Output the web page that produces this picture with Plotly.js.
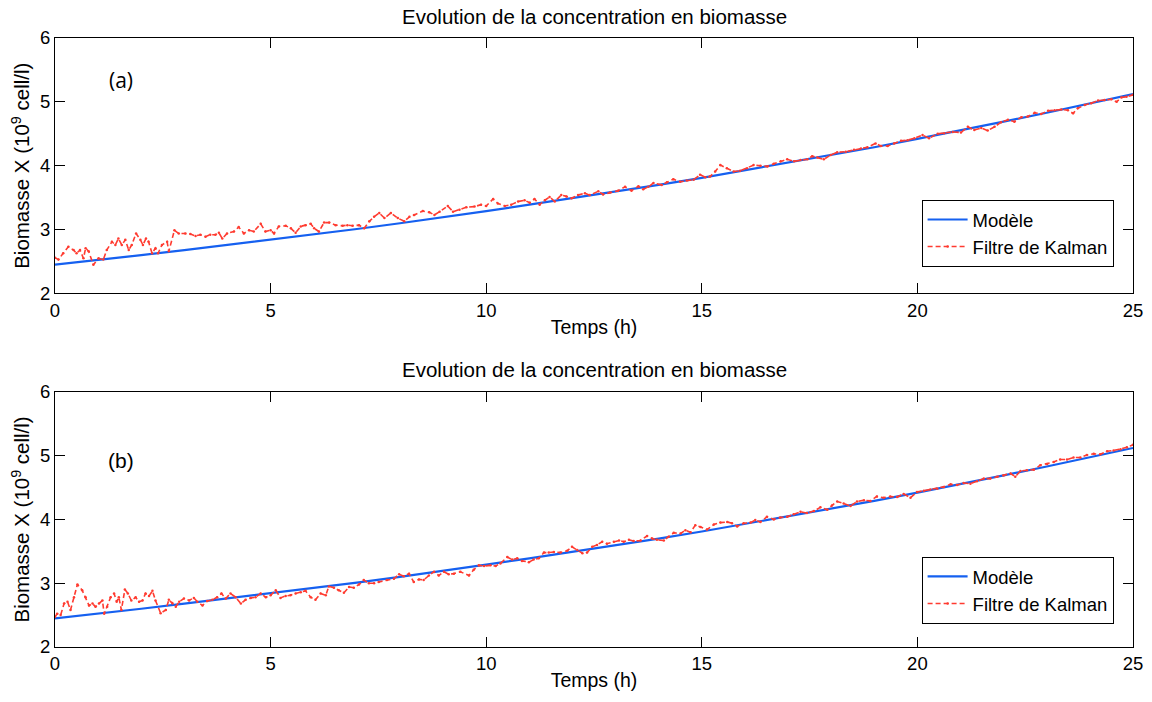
<!DOCTYPE html>
<html>
<head>
<meta charset="utf-8">
<script src="https://cdn.plot.ly/plotly-3.0.1.min.js"></script>
<style>html,body{margin:0;padding:0;background:#fff;}#chart{width:1152px;height:702px;}</style>
</head>
<body>
<div id="chart"></div>
<script>
// Modèle (same curve in both panels), read hourly
const modelT = [0,1,2,3,4,5,6,7,8,9,10,11,12,13,14,15,16,17,18,19,20,21,22,23,24,25];
const modelX = [2.45,2.52,2.60,2.68,2.76,2.84,2.92,3.01,3.10,3.19,3.29,3.39,3.49,3.59,3.70,3.81,3.93,4.04,4.16,4.29,4.42,4.55,4.69,4.83,4.97,5.12];

// Filtre de Kalman, panel (a)
const kalmanAT = [0.00,0.08,0.19,0.31,0.43,0.50,0.58,0.66,0.71,0.78,0.89,1.01,1.12,1.20,1.32,1.40,1.47,1.55,1.63,1.71,1.78,1.88,1.98,2.04,2.11,2.17,2.25,2.33,2.39,2.48,2.60,2.64,2.77,2.87,3.02,3.14,3.26,3.37,3.49,3.60,3.72,3.80,3.88,3.99,4.15,4.26,4.38,4.50,4.61,4.77,4.88,5.00,5.08,5.19,5.35,5.47,5.58,5.70,5.81,5.93,6.01,6.12,6.24,6.36,6.51,6.67,6.78,6.90,7.05,7.17,7.29,7.40,7.52,7.64,7.79,7.95,8.10,8.22,8.33,8.53,8.68,8.80,8.92,9.11,9.23,9.38,9.54,9.73,9.88,10.00,10.16,10.27,10.43,10.58,10.74,10.89,11.01,11.12,11.24,11.36,11.47,11.59,11.74,11.86,11.98,12.13,12.29,12.40,12.60,12.71,12.87,13.06,13.22,13.37,13.53,13.64,13.76,13.88,14.07,14.19,14.34,14.50,14.65,14.81,14.96,15.08,15.19,15.31,15.43,15.58,15.74,15.89,16.05,16.20,16.36,16.52,16.67,16.83,16.98,17.14,17.29,17.45,17.56,17.68,17.83,17.99,18.14,18.34,18.53,18.69,18.84,19.03,19.15,19.31,19.46,19.62,19.77,19.93,20.12,20.27,20.47,20.62,20.82,21.01,21.17,21.32,21.48,21.63,21.79,21.94,22.10,22.25,22.41,22.56,22.72,22.87,23.03,23.18,23.34,23.49,23.61,23.72,23.88,24.03,24.19,24.34,24.50,24.62,24.73,24.85,25.00];
const kalmanAX = [2.56,2.53,2.63,2.73,2.68,2.63,2.68,2.55,2.71,2.66,2.45,2.55,2.53,2.68,2.81,2.76,2.86,2.76,2.84,2.68,2.76,2.94,2.84,2.76,2.86,2.81,2.63,2.71,2.63,2.76,2.81,2.66,2.99,2.94,2.94,2.93,2.90,2.92,2.89,2.92,2.92,2.95,2.86,2.94,2.97,3.04,2.94,2.99,2.97,3.09,2.97,2.99,2.94,3.05,3.06,3.02,2.95,3.05,3.07,3.09,3.02,2.97,3.11,3.11,3.07,3.06,3.07,3.06,3.07,3.02,3.13,3.20,3.26,3.18,3.26,3.18,3.13,3.20,3.23,3.29,3.27,3.23,3.28,3.37,3.28,3.31,3.35,3.36,3.39,3.37,3.48,3.41,3.37,3.39,3.44,3.46,3.42,3.48,3.39,3.46,3.51,3.44,3.54,3.52,3.49,3.54,3.57,3.54,3.60,3.55,3.58,3.61,3.67,3.61,3.68,3.63,3.67,3.73,3.70,3.74,3.79,3.75,3.77,3.78,3.86,3.82,3.83,3.91,4.01,3.96,3.91,3.92,3.96,4.01,4.00,3.99,4.03,4.07,4.10,4.07,4.09,4.10,4.15,4.13,4.10,4.17,4.21,4.22,4.25,4.27,4.29,4.35,4.31,4.31,4.35,4.39,4.40,4.43,4.48,4.43,4.50,4.51,4.53,4.52,4.61,4.56,4.59,4.55,4.61,4.68,4.72,4.69,4.76,4.77,4.83,4.81,4.86,4.87,4.88,4.87,4.82,4.90,4.95,4.98,5.02,5.03,5.04,5.00,5.07,5.08,5.11];

// Filtre de Kalman, panel (b)
const kalmanBT = [0.00,0.05,0.13,0.21,0.29,0.36,0.44,0.52,0.63,0.71,0.79,0.87,0.94,1.02,1.10,1.14,1.21,1.29,1.37,1.43,1.48,1.54,1.62,1.69,1.77,1.87,1.95,2.03,2.10,2.18,2.26,2.33,2.45,2.57,2.64,2.72,2.80,2.88,2.99,3.11,3.22,3.30,3.42,3.53,3.65,3.76,3.86,3.96,4.07,4.19,4.31,4.42,4.54,4.65,4.77,4.89,5.00,5.12,5.23,5.35,5.46,5.58,5.70,5.81,5.93,6.04,6.16,6.28,6.35,6.47,6.58,6.70,6.82,6.93,7.05,7.16,7.28,7.40,7.51,7.70,7.86,7.98,8.09,8.21,8.32,8.44,8.55,8.67,8.79,8.90,9.02,9.13,9.25,9.40,9.60,9.71,9.83,9.95,10.10,10.22,10.33,10.49,10.60,10.72,10.83,10.99,11.10,11.22,11.34,11.45,11.57,11.72,11.88,11.99,12.11,12.23,12.34,12.46,12.57,12.69,12.80,12.96,13.08,13.19,13.31,13.42,13.58,13.73,13.85,13.96,14.12,14.23,14.35,14.51,14.62,14.74,14.85,14.97,15.12,15.28,15.43,15.59,15.70,15.82,15.97,16.13,16.24,16.36,16.51,16.67,16.82,16.98,17.13,17.29,17.44,17.60,17.75,17.91,18.02,18.14,18.29,18.45,18.60,18.76,18.91,19.06,19.22,19.37,19.53,19.68,19.84,19.99,20.15,20.30,20.46,20.61,20.77,20.92,21.07,21.23,21.38,21.54,21.69,21.85,22.00,22.16,22.27,22.39,22.54,22.70,22.85,23.01,23.16,23.31,23.47,23.62,23.78,23.93,24.09,24.24,24.40,24.55,24.71,24.86,25.00];
const kalmanBX = [2.47,2.52,2.50,2.68,2.71,2.58,2.78,2.98,2.89,2.78,2.65,2.68,2.63,2.68,2.73,2.52,2.63,2.78,2.84,2.71,2.78,2.58,2.90,2.84,2.73,2.78,2.71,2.73,2.84,2.80,2.88,2.73,2.53,2.58,2.74,2.69,2.63,2.71,2.76,2.73,2.77,2.71,2.65,2.72,2.74,2.78,2.84,2.76,2.84,2.78,2.68,2.74,2.77,2.78,2.84,2.78,2.81,2.89,2.77,2.80,2.81,2.84,2.86,2.88,2.78,2.74,2.84,2.81,2.95,2.93,2.89,2.85,2.94,2.93,2.98,3.05,3.00,3.00,3.02,3.05,3.07,3.14,3.11,3.15,3.02,3.06,3.05,3.12,3.18,3.12,3.18,3.14,3.15,3.18,3.12,3.21,3.28,3.27,3.28,3.27,3.31,3.41,3.37,3.39,3.35,3.33,3.37,3.39,3.48,3.48,3.49,3.48,3.51,3.57,3.52,3.47,3.48,3.57,3.60,3.65,3.62,3.65,3.67,3.65,3.68,3.66,3.67,3.74,3.70,3.68,3.67,3.73,3.79,3.78,3.83,3.80,3.91,3.88,3.84,3.92,3.95,3.96,3.94,3.89,3.94,3.95,3.99,3.96,4.04,4.00,4.03,4.04,4.08,4.12,4.10,4.13,4.19,4.15,4.22,4.28,4.25,4.21,4.28,4.30,4.29,4.36,4.34,4.36,4.35,4.40,4.34,4.43,4.45,4.47,4.48,4.51,4.55,4.54,4.57,4.56,4.60,4.64,4.64,4.67,4.69,4.72,4.67,4.76,4.77,4.78,4.85,4.87,4.90,4.94,4.94,4.97,4.97,5.01,5.03,5.02,5.07,5.08,5.10,5.13,5.17];

const seriesNames = ['Modèle', 'Filtre de Kalman'];
const panelTitle = 'Evolution de la concentration en biomasse';
const xLabel = 'Temps (h)';
const yLabel = 'Biomasse X (10<sup>9</sup> cell/l)';
const panelLabels = ['(a)', '(b)'];
const xTicks = [0,5,10,15,20,25];
const yTicks = [2,3,4,5,6];

const FONT = 'Liberation Sans, Arial, sans-serif';
const blue = '#1560f0';
const red = '#ff3b30';

function modelTrace(xa, ya, leg) {
  return {x: modelT, y: modelX, xaxis: xa, yaxis: ya, legend: leg, name: seriesNames[0],
    type: 'scatter', mode: 'lines', line: {color: blue, width: 2.2}};
}
function kalmanTrace(t, v, xa, ya, leg) {
  return {x: t, y: v, xaxis: xa, yaxis: ya, legend: leg, name: seriesNames[1],
    type: 'scatter', mode: 'lines+markers', line: {color: red, width: 1.6, dash: '5px,3px'},
    marker: {color: red, size: 2.5}, cliponaxis: true};
}

const data = [
  modelTrace('x', 'y', 'legend'),
  kalmanTrace(kalmanAT, kalmanAX, 'x', 'y', 'legend'),
  modelTrace('x2', 'y2', 'legend2'),
  kalmanTrace(kalmanBT, kalmanBX, 'x2', 'y2', 'legend2')
];

function xaxisDef(anchor) {
  return {anchor: anchor, domain: [0, 1], range: [0, 25], tickvals: xTicks, ticktext: xTicks.map(String),
    ticks: 'inside', ticklen: 10, tickcolor: '#000', showline: true, linecolor: '#000', linewidth: 1,
    mirror: 'ticks', showgrid: false, zeroline: false, tickfont: {family: FONT, size: 18.5, color: '#000'},
    title: {text: xLabel, font: {family: FONT, size: 19.5, color: '#000'}, standoff: 0}, automargin: false};
}
function yaxisDef(anchor, dom) {
  return {anchor: anchor, domain: dom, range: [2, 6], tickvals: yTicks, ticktext: yTicks.map(String),
    ticks: 'inside', ticklen: 10, tickcolor: '#000', showline: true, linecolor: '#000', linewidth: 1,
    mirror: 'ticks', showgrid: false, zeroline: false, tickfont: {family: FONT, size: 18.5, color: '#000'},
    title: {text: yLabel, font: {family: FONT, size: 20.5, color: '#000'}, standoff: 4}, automargin: false};
}

const legendDef = (y) => ({x: 0.982, xanchor: 'right', y: y, yanchor: 'bottom',
  bgcolor: '#fff', bordercolor: '#000', borderwidth: 1,
  font: {family: FONT, size: 18.5, color: '#000'}, tracegroupgap: 0, itemwidth: 40});

const layout = {
  width: 1152, height: 702,
  margin: {l: 55, r: 19, t: 38, b: 55},
  paper_bgcolor: '#fff', plot_bgcolor: '#fff',
  font: {family: FONT, color: '#000'},
  showlegend: true,
  xaxis: xaxisDef('y'),
  yaxis: yaxisDef('x', [0.5805, 1]),
  xaxis2: xaxisDef('y2'),
  yaxis2: yaxisDef('x2', [0, 0.419]),
  legend: legendDef(0.624),
  legend2: legendDef(0.038),
  annotations: [
    {text: panelTitle, xref: 'paper', yref: 'paper', x: 0.5, y: 1.036, xanchor: 'center', yanchor: 'middle',
      showarrow: false, font: {family: FONT, size: 20.5, color: '#000'}},
    {text: panelTitle, xref: 'paper', yref: 'paper', x: 0.5, y: 0.456, xanchor: 'center', yanchor: 'middle',
      showarrow: false, font: {family: FONT, size: 20.5, color: '#000'}},
    {text: panelLabels[0], xref: 'paper', yref: 'paper', x: 0.061, y: 0.931, xanchor: 'center', yanchor: 'middle',
      showarrow: false, font: {family: 'Open Sans, sans-serif', size: 21, color: '#000'}},
    {text: panelLabels[1], xref: 'paper', yref: 'paper', x: 0.061, y: 0.307, xanchor: 'center', yanchor: 'middle',
      showarrow: false, font: {family: 'Liberation Sans, sans-serif', size: 21, color: '#000'}}
  ]
};

Plotly.newPlot('chart', data, layout, {staticPlot: true, displayModeBar: false});
</script>
</body>
</html>
